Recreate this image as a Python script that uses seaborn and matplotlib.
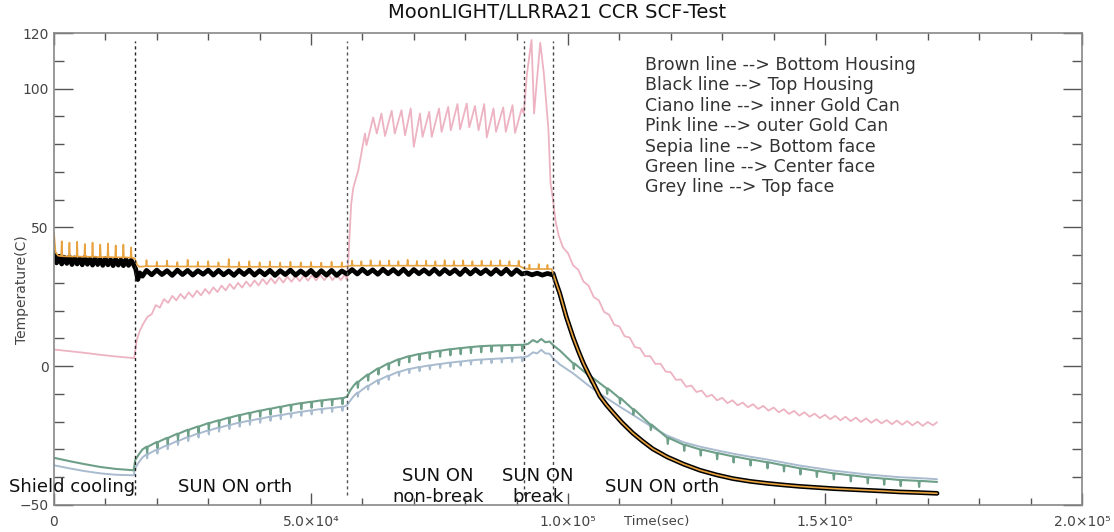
import numpy as np
import pandas as pd
import matplotlib
matplotlib.use("Agg")
import matplotlib.pyplot as plt
from matplotlib.ticker import FixedLocator, MultipleLocator
import seaborn as sns

sns.set_style("white")
plt.rcParams['font.family'] = ['DejaVu Sans']

# ---------------- data (time in ks, temperature in C) ----------------
TITLE = "MoonLIGHT/LLRRA21 CCR SCF-Test"
legend_lines = ["Brown line --> Bottom Housing", "Black line --> Top Housing",
                "Ciano line --> inner Gold Can", "Pink line --> outer Gold Can",
                "Sepia line --> Bottom face", "Green line --> Center face",
                "Grey line --> Top face"]
phase_boundaries_ks = [15.7, 57.0, 91.4, 97.0]
x_tick_values = [0, 5e4, 1e5, 1.5e5, 2e5]
x_tick_labels = ["0", "5.0×10⁴", "1.0×10⁵", "1.5×10⁵", "2.0×10⁵"]
y_tick_values = [-50, 0, 50, 100, 120]
y_tick_labels = ["−50", "0", "50", "100", "120"]

outer_gold_can = [  # pink
    (0, 6.0), (3, 5.4), (6, 4.8), (9, 4.1), (12, 3.5), (15.6, 2.9),
    (15.8, 5.5), (16.1, 9.4), (16.7, 12.8), (17.4, 15.4), (18.2, 17.8),
    (19.0, 18.7), (19.8, 22.0), (20.6, 21.1), (21.4, 24.2), (22.2, 22.8), (23.0, 25.3),
    (23.8, 23.7), (24.6, 26.0), (25.4, 24.3), (26.2, 26.6), (27.0, 24.9), (27.8, 27.2),
    (28.6, 25.5), (29.4, 27.8), (30.2, 26.1), (31.0, 28.4), (31.8, 26.7), (32.6, 29.0),
    (33.4, 27.3), (34.2, 29.6), (35.0, 27.8), (35.8, 30.0), (36.6, 28.3), (37.4, 30.5),
    (38.2, 28.7), (39.0, 30.9), (39.8, 29.1), (40.6, 31.4), (41.4, 29.5), (42.2, 31.7),
    (43.0, 29.8), (43.8, 32.0), (44.6, 30.1), (45.4, 32.2), (46.2, 30.4), (47.0, 32.5),
    (47.8, 30.6), (48.6, 32.7), (49.4, 30.8), (50.2, 32.8), (51.0, 30.9), (51.8, 32.9),
    (52.6, 31.0), (53.4, 33.0), (54.2, 31.0), (55.0, 33.0), (55.8, 31.0), (56.6, 33.0),
    (57.0, 31.0), (57.2, 36.0), (57.5, 47.0), (57.8, 58.0), (58.2, 64.0), (59.2, 70.6),
    (60.5, 83.8), (60.8, 79.6), (62.1, 89.6), (62.8, 83.8), (63.7, 91.0), (64.4, 82.9),
    (65.7, 92.0), (66.3, 83.8), (67.6, 92.2), (68.3, 83.2), (69.4, 92.8), (70.0, 79.0),
    (71.2, 91.0), (71.7, 82.6), (73.0, 91.6), (73.5, 82.6), (74.9, 92.8), (75.4, 84.4),
    (76.7, 93.4), (77.2, 85.0), (78.5, 94.4), (79.0, 85.3), (80.3, 94.6), (80.8, 86.0),
    (81.9, 93.7), (82.6, 85.0), (83.7, 94.4), (84.2, 82.4), (85.5, 92.8), (86.0, 84.4),
    (87.4, 93.2), (87.9, 84.4), (89.2, 94.0), (89.7, 84.0), (91.0, 92.8), (91.4, 91.0),
    (92.0, 105.0), (92.9, 117.5), (93.4, 91.0), (94.0, 104.0), (94.6, 116.5), (95.3, 105.4),
    (96.2, 85.0), (96.6, 66.0), (97.1, 59.8), (97.6, 52.0), (98.2, 47.0),
    (99, 42.8), (100, 40.7), (101, 36.3), (102, 34.7), (103, 30.5), (104, 29.0),
    (105, 24.9), (106, 23.7), (107, 19.6), (108, 18.5), (109, 14.9), (110, 14.3),
    (111, 10.8), (112, 10.3), (113, 6.9), (114, 6.5), (115, 3.6), (116, 3.6),
    (117, 0.8), (118, 0.9), (119, -1.9), (120, -2.2), (121, -4.9), (122, -4.8),
    (123, -7.4), (124, -7.0), (125, -9.3), (126, -8.8), (127, -11.0), (128, -10.3),
    (129, -12.3), (130, -11.4), (131, -13.3), (132, -12.3), (133, -14.1), (134, -13.1),
    (135, -14.8), (136, -13.7), (137, -15.4), (138, -14.3), (139, -16.0), (140, -14.9),
    (141, -16.6), (142, -15.5), (143, -17.2), (144, -16.1), (145, -17.8), (146, -16.6),
    (147, -18.2), (148, -17.1), (149, -18.7), (150, -17.5), (151, -19.1), (152, -17.9),
    (153, -19.5), (154, -18.2), (155, -19.8), (156, -18.5), (157, -20.1), (158, -18.8),
    (159, -20.4), (160, -19.1), (161, -20.6), (162, -19.4), (163, -20.9), (164, -19.6),
    (165, -21.1), (166, -19.8), (167, -21.3), (168, -20.0), (169, -21.5), (170, -20.1),
    (171, -21.3), (171.8, -20.2),
]

housing_decay = [
    (97.1, 33.4), (97.6, 30.5), (98.4, 26.2), (99.7, 17.6), (101.0, 10.4), (102.0, 5.5),
    (103.0, 1.0), (104.0, -2.8), (104.9, -6.0), (106.2, -10.8), (107.5, -14.0),
    (109.0, -17.2), (110.5, -20.3), (112.6, -24.1), (114.5, -27.0), (116.5, -29.8),
    (119.3, -32.7), (122.5, -35.3), (125.7, -37.5), (129.0, -39.2), (132.1, -40.5),
    (135.5, -41.5), (138.7, -42.2), (142.0, -42.8), (145.1, -43.3), (148.3, -43.7),
    (151.6, -44.1), (155.0, -44.4), (158.2, -44.7), (161.5, -45.0), (164.6, -45.3),
    (168.0, -45.5), (171.8, -45.8),
]

top_housing = [  # black
    (0, 40.8), (0.5, 37.2), (1, 39.6), (1.5, 36.8), (2, 39.2), (2.5, 37.0), (3, 39.4),
    (3.5, 36.6), (4, 39.0), (4.5, 36.8), (5, 38.8), (5.5, 36.5), (6, 39.2), (6.5, 36.7),
    (7, 38.6), (7.5, 36.4), (8, 38.9), (8.5, 36.6), (9, 38.5), (9.5, 36.3), (10, 38.7),
    (10.5, 36.5), (11, 38.4), (11.5, 36.2), (12, 38.6), (12.5, 36.4), (13, 38.3),
    (13.5, 36.2), (14, 38.5), (14.5, 36.3), (15, 38.2), (15.5, 36.5),
    (15.9, 35.0), (16.3, 31.2), (16.7, 33.6), (17.2, 32.4),
    (18, 34.5), (19, 32.9), (20, 34.6), (21, 33.0), (22, 34.4), (23, 32.7), (24, 34.6),
    (25, 33.0), (26, 34.5), (27, 32.8), (28, 34.4), (29, 33.1), (30, 34.6), (31, 32.8),
    (32, 34.5), (33, 32.9), (34, 34.3), (35, 32.7), (36, 34.5), (37, 33.0), (38, 34.6),
    (39, 32.8), (40, 34.4), (41, 32.9), (42, 34.5), (43, 32.7), (44, 34.4), (45, 33.0),
    (46, 34.6), (47, 32.8), (48, 34.3), (49, 32.9), (50, 34.5), (51, 32.6), (52, 34.4),
    (53, 32.8), (54, 34.5), (55, 32.7), (56, 34.3), (57, 33.2),
    (58, 34.8), (59, 33.2), (60, 34.9), (61, 33.3), (62, 34.7), (63, 33.1), (64, 34.9),
    (65, 33.3), (66, 34.8), (67, 33.2), (68, 34.9), (69, 33.0), (70, 34.8), (71, 33.3),
    (72, 34.7), (73, 33.2), (74, 34.9), (75, 33.1), (76, 34.8), (77, 33.3), (78, 34.7),
    (79, 33.0), (80, 34.9), (81, 33.2), (82, 34.8), (83, 33.3), (84, 34.7), (85, 33.1),
    (86, 34.8), (87, 33.2), (88, 34.9), (89, 33.0), (90, 34.7), (91, 33.2),
    (92, 33.6), (93, 32.9), (94, 33.5), (95, 32.8), (96, 33.4), (96.8, 33.0),
] + housing_decay

bottom_housing = [  # orange
    (0, 48.0), (0.3, 41.0), (0.8, 39.8),
    (1.4, 39.6), (1.5, 45.0), (1.6, 39.6), (2.9, 39.5), (3.0, 44.5), (3.1, 39.5),
    (4.4, 39.5), (4.5, 44.8), (4.6, 39.5), (5.9, 39.4), (6.0, 44.0), (6.1, 39.4),
    (7.4, 39.4), (7.5, 44.5), (7.6, 39.4), (8.9, 39.3), (9.0, 43.8), (9.1, 39.3),
    (10.4, 39.3), (10.5, 44.2), (10.6, 39.3), (11.9, 39.2), (12.0, 43.5), (12.1, 39.2),
    (13.4, 39.2), (13.5, 43.8), (13.6, 39.2), (14.9, 39.1), (15.0, 42.8), (15.1, 39.1),
    (15.7, 38.8), (16.2, 36.5), (16.6, 35.8),
    (17.9, 36.0), (18.0, 38.2), (18.1, 36.0), (19.9, 36.0), (20.0, 37.6), (20.1, 36.0),
    (21.9, 36.0), (22.0, 38.0), (22.1, 36.0), (23.9, 35.9), (24.0, 37.5), (24.1, 35.9),
    (25.9, 35.9), (26.0, 38.3), (26.1, 35.9), (27.9, 35.9), (28.0, 37.6), (28.1, 35.9),
    (29.9, 35.9), (30.0, 37.8), (30.1, 35.9), (31.9, 35.9), (32.0, 37.4), (32.1, 35.9),
    (33.9, 35.8), (34.0, 38.6), (34.1, 35.8), (35.9, 35.8), (36.0, 37.5), (36.1, 35.8),
    (37.9, 35.8), (38.0, 37.8), (38.1, 35.8), (39.9, 35.8), (40.0, 37.4), (40.1, 35.8),
    (41.9, 35.8), (42.0, 37.7), (42.1, 35.8), (43.9, 35.8), (44.0, 37.3), (44.1, 35.8),
    (45.9, 35.8), (46.0, 37.6), (46.1, 35.8), (47.9, 35.8), (48.0, 37.4), (48.1, 35.8),
    (49.9, 35.8), (50.0, 37.5), (50.1, 35.8), (51.9, 35.8), (52.0, 37.3), (52.1, 35.8),
    (53.9, 35.8), (54.0, 37.6), (54.1, 35.8), (55.9, 35.8), (56.0, 37.4), (56.1, 35.8),
    (57.2, 36.0),
    (57.9, 36.2), (58.0, 38.0), (58.1, 36.2), (59.7, 36.2), (59.8, 37.8), (59.9, 36.2),
    (61.5, 36.2), (61.6, 38.2), (61.7, 36.2), (63.3, 36.2), (63.4, 37.9), (63.5, 36.2),
    (65.1, 36.2), (65.2, 38.1), (65.3, 36.2), (66.9, 36.2), (67.0, 37.8), (67.1, 36.2),
    (68.7, 36.2), (68.8, 38.3), (68.9, 36.2), (70.5, 36.2), (70.6, 37.9), (70.7, 36.2),
    (72.3, 36.2), (72.4, 38.0), (72.5, 36.2), (74.1, 36.2), (74.2, 37.8), (74.3, 36.2),
    (75.9, 36.2), (76.0, 38.2), (76.1, 36.2), (77.7, 36.2), (77.8, 37.9), (77.9, 36.2),
    (79.5, 36.2), (79.6, 38.1), (79.7, 36.2), (81.3, 36.2), (81.4, 37.8), (81.5, 36.2),
    (83.1, 36.2), (83.2, 38.0), (83.3, 36.2), (84.9, 36.2), (85.0, 37.9), (85.1, 36.2),
    (86.7, 36.2), (86.8, 38.2), (86.9, 36.2), (88.5, 36.2), (88.6, 37.8), (88.7, 36.2),
    (90.3, 36.1), (90.4, 38.0), (90.5, 36.1),
    (91.5, 35.2), (92.4, 35.0), (92.5, 36.6), (92.6, 35.0), (94.2, 35.0), (94.3, 36.8),
    (94.4, 35.0), (95.9, 35.0), (96.0, 36.5), (96.1, 35.0), (96.8, 35.0),
] + housing_decay

center_face = [  # green
    (0, -33.0), (3, -34.2), (6, -35.3), (9, -36.3), (12, -37.0), (15.5, -37.5),
    (15.8, -33.8), (16.5, -31.8), (17.2, -30.0),
    (18, -29.0), (18.12, -31.2), (18.25, -29.0), (20, -27.3), (20.12, -29.5), (20.25, -27.3),
    (22, -25.8), (22.12, -28.0), (22.25, -25.8), (24, -24.3), (24.12, -26.5), (24.25, -24.3),
    (26, -22.9), (26.12, -25.1), (26.25, -22.9), (28, -21.7), (28.12, -23.9), (28.25, -21.7),
    (30, -20.5), (30.12, -22.7), (30.25, -20.5), (32, -19.5), (32.12, -21.7), (32.25, -19.5),
    (34, -18.5), (34.12, -20.7), (34.25, -18.5), (36, -17.6), (36.12, -19.8), (36.25, -17.6),
    (38, -16.8), (38.12, -19.0), (38.25, -16.8), (40, -16.0), (40.12, -18.2), (40.25, -16.0),
    (42, -15.3), (42.12, -17.5), (42.25, -15.3), (44, -14.6), (44.12, -16.8), (44.25, -14.6),
    (46, -13.9), (46.12, -16.1), (46.25, -13.9), (48, -13.3), (48.12, -15.5), (48.25, -13.3),
    (50, -12.8), (50.12, -15.0), (50.25, -12.8), (52, -12.3), (52.12, -14.5), (52.25, -12.3),
    (54, -11.9), (54.12, -14.1), (54.25, -11.9), (56, -11.5), (56.12, -13.7), (56.25, -11.5),
    (57.0, -11.0), (57.6, -8.8), (58.3, -7.0),
    (59, -5.6), (59.12, -7.8), (59.25, -5.6), (61, -3.0), (61.12, -5.2), (61.25, -3.0),
    (63, -0.8), (63.12, -3.0), (63.25, -0.8), (65, 1.0), (65.12, -1.2), (65.25, 1.0),
    (67, 2.5), (67.12, 0.3), (67.25, 2.5), (69, 3.6), (69.12, 1.4), (69.25, 3.6),
    (71, 4.4), (71.12, 2.2), (71.25, 4.4), (73, 5.0), (73.12, 2.8), (73.25, 5.0),
    (75, 5.6), (75.12, 3.4), (75.25, 5.6), (77, 6.1), (77.12, 3.9), (77.25, 6.1),
    (79, 6.5), (79.12, 4.3), (79.25, 6.5), (81, 6.9), (81.12, 4.7), (81.25, 6.9),
    (83, 7.2), (83.12, 5.0), (83.25, 7.2), (85, 7.4), (85.12, 5.2), (85.25, 7.4),
    (87, 7.5), (87.12, 5.3), (87.25, 7.5), (89, 7.6), (89.12, 5.4), (89.25, 7.6),
    (91, 7.7), (91.12, 5.5), (91.25, 7.7),
    (92.2, 8.0), (93.2, 9.4), (94.0, 8.6), (94.8, 9.8), (95.6, 8.6), (96.4, 8.9), (97.1, 7.6),
    (98.5, 5.5), (101.0, 1.0), (101.12, -1.0), (101.25, 1.0), (104.3, -3.8), (104.42, -5.8),
    (104.55, -3.8), (107.5, -8.0), (107.62, -10.0), (107.75, -8.0), (110.0, -11.5),
    (110.12, -13.5), (110.25, -11.5), (112.6, -15.5), (112.72, -17.5), (112.85, -15.5),
    (116.0, -21.0), (116.12, -23.0), (116.25, -21.0), (119.3, -25.8), (119.42, -28.0),
    (119.55, -25.8), (122.5, -28.3), (122.62, -30.5), (122.75, -28.3), (125.7, -30.0),
    (125.82, -32.2), (125.95, -30.0), (128.9, -31.3), (129.02, -33.5), (129.15, -31.3),
    (132.1, -32.5), (132.22, -34.7), (132.35, -32.5), (135.4, -33.6), (135.52, -35.8),
    (135.65, -33.6), (138.7, -34.6), (138.82, -36.8), (138.95, -34.6), (141.9, -35.7),
    (142.02, -37.9), (142.15, -35.7), (145.1, -36.8), (145.22, -39.0), (145.35, -36.8),
    (148.3, -37.7), (148.42, -39.9), (148.55, -37.7), (151.6, -38.6), (151.72, -40.8),
    (151.85, -38.6), (154.9, -39.3), (155.02, -41.5), (155.15, -39.3), (158.2, -40.0),
    (158.32, -42.2), (158.45, -40.0), (161.4, -40.5), (161.52, -42.7), (161.65, -40.5),
    (164.6, -41.0), (164.72, -43.2), (164.85, -41.0), (168.2, -41.3), (168.32, -43.5),
    (168.45, -41.3), (171.8, -41.7),
]

top_face = [  # grey-blue
    (0, -35.7), (3, -36.8), (6, -37.8), (9, -38.6), (12, -39.1), (15.5, -39.3),
    (15.8, -36.8), (16.5, -34.6), (17.2, -32.9),
    (18, -31.7), (18.12, -33.2), (18.25, -31.7), (20, -30.0), (20.12, -31.5), (20.25, -30.0),
    (22, -28.4), (22.12, -29.9), (22.25, -28.4), (24, -26.9), (24.12, -28.4), (24.25, -26.9),
    (26, -25.5), (26.12, -27.0), (26.25, -25.5), (28, -24.2), (28.12, -25.7), (28.25, -24.2),
    (30, -23.1), (30.12, -24.6), (30.25, -23.1), (32, -22.1), (32.12, -23.6), (32.25, -22.1),
    (34, -21.2), (34.12, -22.7), (34.25, -21.2), (36, -20.3), (36.12, -21.8), (36.25, -20.3),
    (38, -19.6), (38.12, -21.1), (38.25, -19.6), (40, -18.9), (40.12, -20.4), (40.25, -18.9),
    (42, -18.2), (42.12, -19.7), (42.25, -18.2), (44, -17.6), (44.12, -19.1), (44.25, -17.6),
    (46, -17.0), (46.12, -18.5), (46.25, -17.0), (48, -16.4), (48.12, -17.9), (48.25, -16.4),
    (50, -15.9), (50.12, -17.4), (50.25, -15.9), (52, -15.4), (52.12, -16.9), (52.25, -15.4),
    (54, -15.0), (54.12, -16.5), (54.25, -15.0), (56, -14.6), (56.12, -16.1), (56.25, -14.6),
    (57.0, -14.1), (57.6, -12.5), (58.3, -10.8),
    (59, -9.5), (59.12, -11.0), (59.25, -9.5), (61, -7.0), (61.12, -8.5), (61.25, -7.0),
    (63, -5.0), (63.12, -6.5), (63.25, -5.0), (65, -3.4), (65.12, -4.9), (65.25, -3.4),
    (67, -2.0), (67.12, -3.5), (67.25, -2.0), (69, -1.0), (69.12, -2.5), (69.25, -1.0),
    (71, -0.3), (71.12, -1.8), (71.25, -0.3), (73, 0.3), (73.12, -1.2), (73.25, 0.3),
    (75, 0.8), (75.12, -0.7), (75.25, 0.8), (77, 1.3), (77.12, -0.2), (77.25, 1.3),
    (79, 1.7), (79.12, 0.2), (79.25, 1.7), (81, 2.1), (81.12, 0.6), (81.25, 2.1),
    (83, 2.4), (83.12, 0.9), (83.25, 2.4), (85, 2.6), (85.12, 1.1), (85.25, 2.6),
    (87, 2.8), (87.12, 1.3), (87.25, 2.8), (89, 3.0), (89.12, 1.5), (89.25, 3.0),
    (91, 3.2), (91.12, 1.7), (91.25, 3.2),
    (92.2, 3.6), (93.2, 5.0), (94.0, 4.6), (94.8, 5.9), (95.6, 4.6), (96.4, 4.5), (97.1, 2.8),
    (98.5, 0.5), (101.0, -2.6), (104.3, -7.4), (107.5, -11.5), (110.0, -14.5),
    (112.6, -17.5), (116.0, -21.5), (119.3, -25.0), (122.5, -27.4), (125.7, -29.0),
    (128.9, -30.3), (132.1, -31.5), (135.4, -32.6), (138.7, -33.6), (141.9, -34.7),
    (145.1, -35.8), (148.3, -36.7), (151.6, -37.6), (154.9, -38.3), (158.2, -39.0),
    (161.4, -39.5), (164.6, -40.0), (168.2, -40.3), (171.8, -40.7),
]

phase_labels = [  # (text, centre time ks, temperature)
    ("Shield cooling", 3.5, -43.6),
    ("SUN ON orth", 35.2, -43.6),
    ("SUN ON", 74.7, -39.6), ("non-break", 74.7, -47.2),
    ("SUN ON", 94.2, -39.6), ("break", 94.2, -47.2),
    ("SUN ON orth", 118.3, -43.6),
]

# ---------------- figure ----------------
W, H = 1114, 532
fig = plt.figure(figsize=(W / 100, H / 100), dpi=100)
ax = fig.add_axes([54 / W, 27 / H, 1028 / W, 472 / H])

def to_frame(points):
    df = pd.DataFrame(points, columns=["t_ks", "temp"])
    df["time"] = df["t_ks"] * 1000.0
    return df

series = [
    (outer_gold_can, "#EDB3C2", 1.3),
    (top_face, "#A9BBCF", 1.4),
    (center_face, "#6E9F88", 1.5),
    (top_housing, "#000000", 3.4),
    (bottom_housing, "#E8A23E", 1.2),
]
for pts, col, lw in series:
    sns.lineplot(data=to_frame(pts), x="time", y="temp", color=col, lw=lw,
                 estimator=None, sort=False, ax=ax)

ax.vlines([b * 1000 for b in phase_boundaries_ks], -46.5, 117,
          colors=["#222222", "#555555", "#444444", "#444444"],
          linestyles=(0, (2.2, 2.2)), lw=1.0)

ax.set_xlim(0, 2e5)
ax.set_ylim(-50, 120)
ax.xaxis.set_major_locator(FixedLocator(x_tick_values))
ax.set_xticklabels(x_tick_labels)
ax.xaxis.set_minor_locator(MultipleLocator(1e4))
ax.yaxis.set_major_locator(FixedLocator(y_tick_values))
ax.set_yticklabels(y_tick_labels)
ax.yaxis.set_minor_locator(MultipleLocator(10))
ax.tick_params(axis="x", which="major", direction="in", length=8.5, width=1,
               top=True, bottom=True, color="#555555", pad=7, labelsize=10,
               labelcolor="#444444")
ax.tick_params(axis="x", which="minor", direction="in", length=5, width=1,
               top=True, bottom=True, color="#555555")
ax.tick_params(axis="y", which="major", direction="in", length=14, width=1,
               left=True, right=True, color="#555555", pad=4, labelsize=10,
               labelcolor="#444444")
ax.tick_params(axis="y", which="minor", direction="in", length=7, width=1,
               left=True, right=True, color="#555555")
for s in ax.spines.values():
    s.set_color("#888888")
    s.set_linewidth(1.2)
ax.set_xlabel("")
ax.set_ylabel("")

fig.text(557.5 / W, 1 - 13 / H, TITLE, ha="center", va="center", fontsize=14,
         color="#111111")
fig.text(22 / W, 1 - 290 / H, "Temperature(C)", rotation=90, ha="center",
         va="center", fontsize=10, color="#444444")
fig.text(657 / W, 1 - 522 / H, "Time(sec)", ha="center", va="center",
         fontsize=9.5, color="#444444")

for i, line in enumerate(legend_lines):
    fig.text(645 / W, 1 - (65 + 20.4 * i) / H, line, ha="left", va="center",
             fontsize=12.5, color="#333333")

for txt, tk, tv in phase_labels:
    ax.text(tk * 1000, tv, txt, ha="center", va="center", fontsize=13,
            color="#111111", clip_on=False)

fig.savefig("out.png", dpi=100, facecolor="white")
